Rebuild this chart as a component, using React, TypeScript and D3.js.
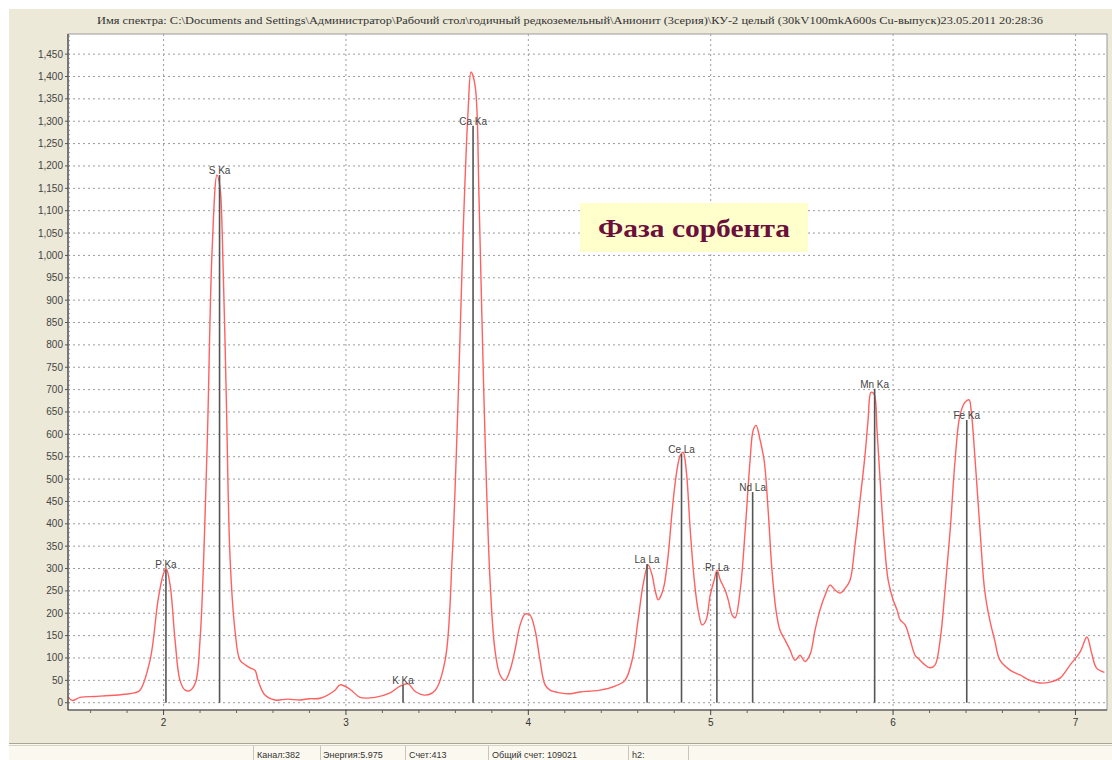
import React from "react";
import * as d3 from "d3";

const titleText =
  "Имя спектра: C:\\Documents and Settings\\Администратор\\Рабочий стол\\годичный редкоземельный\\Анионит (3серия)\\КУ-2 целый (30kV100mkA600s Cu-выпуск)23.05.2011 20:28:36";

const energies = [
  1.476, 1.5, 1.542, 1.624, 1.707, 1.789, 1.84, 1.871, 1.926, 1.97, 1.997, 2.014, 2.036, 2.063, 2.09, 2.118,
  2.145, 2.175, 2.2, 2.238, 2.266, 2.293, 2.31, 2.321, 2.343, 2.365, 2.392, 2.419, 2.447, 2.474, 2.502, 2.518,
  2.556, 2.611, 2.68, 2.748, 2.8, 2.858, 2.94, 2.968, 3.023, 3.077, 3.16, 3.242, 3.297, 3.341, 3.38, 3.435,
  3.49, 3.544, 3.582, 3.615, 3.643, 3.67, 3.686, 3.708, 3.73, 3.757, 3.79, 3.817, 3.845, 3.872, 3.9, 3.927,
  3.955, 3.982, 4.009, 4.037, 4.064, 4.092, 4.119, 4.174, 4.23, 4.283, 4.34, 4.393, 4.475, 4.53, 4.569,
  4.602, 4.629, 4.657, 4.679, 4.695, 4.712, 4.728, 4.745, 4.767, 4.789, 4.811, 4.833, 4.849, 4.866, 4.888,
  4.91, 4.931, 4.953, 4.975, 4.997, 5.019, 5.035, 5.052, 5.079, 5.096, 5.118, 5.134, 5.162, 5.189, 5.216,
  5.233, 5.249, 5.271, 5.293, 5.315, 5.336, 5.358, 5.38, 5.408, 5.435, 5.462, 5.49, 5.517, 5.545, 5.572,
  5.599, 5.627, 5.654, 5.682, 5.709, 5.736, 5.764, 5.791, 5.819, 5.846, 5.863, 5.879, 5.896, 5.912, 5.929,
  5.951, 5.973, 6.0, 6.022, 6.039, 6.066, 6.094, 6.121, 6.148, 6.176, 6.203, 6.23, 6.258, 6.285, 6.313,
  6.34, 6.367, 6.395, 6.417, 6.428, 6.45, 6.477, 6.502, 6.53, 6.557, 6.586, 6.641, 6.696, 6.75, 6.805,
  6.86, 6.915, 6.97, 7.025, 7.063, 7.088, 7.115, 7.159,
];

const counts = [
  13, 5, 12, 14, 16, 19, 22, 28, 95, 230, 285, 300, 263, 140, 50, 28,
  27, 45, 140, 560, 1010, 1180, 1150, 1060, 700, 320, 160, 95, 85, 78, 72, 50,
  17, 6, 8, 6, 9, 10, 28, 40, 30, 12, 12, 22, 37, 42, 25, 17,
  28, 95, 320, 676, 1056, 1325, 1410, 1380, 1123, 676, 274, 118, 62, 50, 73, 118,
  174, 198, 196, 162, 95, 40, 28, 22, 20, 24, 26, 28, 37, 50, 95,
  185, 263, 308, 285, 252, 230, 240, 263, 330, 430, 509, 553, 560, 519, 385,
  274, 207, 174, 185, 240, 274, 296, 275, 252, 230, 196, 190, 252, 385, 542,
  609, 620, 587, 542, 430, 296, 207, 162, 140, 118, 95, 106, 92, 108, 162,
  207, 240, 263, 252, 245, 255, 274, 352, 453, 553, 632, 694, 690, 609, 498,
  364, 274, 230, 207, 185, 174, 140, 106, 95, 84, 78, 84, 140, 252, 385,
  542, 643, 672, 677, 654, 542, 385, 252, 185, 140, 95, 73, 62, 50, 44,
  46, 55, 84, 113, 147, 112, 78, 68,
];

const peakNames = ["P Ka", "S Ka", "K Ka", "Ca Ka", "La La", "Ce La", "Pr La", "Nd La", "Mn Ka", "Fe Ka"];
const peakEnergies = [2.013, 2.307, 3.313, 3.697, 4.651, 4.84, 5.034, 5.23, 5.899, 6.404];
const peakHeights = [298, 1180, 40, 1290, 310, 556, 292, 471, 702, 632];

const xTicks = [2, 3, 4, 5, 6, 7];
const yTicks = d3.range(0, 1451, 50);

const statusCells = ["Канал:382", "Энергия:5.975", "Счет:413", "Общий счет: 109021", "h2:"];
const phaseLabel = "Фаза сорбента";

const W = 1112;
const H = 760;
const plot = { left: 68, right: 1107, top: 34, bottom: 710 };

export default function App() {
  const x = d3.scaleLinear().domain([1.476, 7.173]).range([plot.left, plot.right]);
  const y = d3.scaleLinear().domain([-16.3, 1495]).range([plot.bottom, plot.top]);

  const pts: [number, number][] = energies.map((e, i) => [e, counts[i]]);
  const line = d3
    .line<[number, number]>()
    .x((d) => x(d[0]))
    .y((d) => y(d[1]))
    .curve(d3.curveCatmullRom.alpha(0.5));

  const xMinor = d3.range(1.6, 7.17, 0.2).filter((v) => Math.abs(v - Math.round(v)) > 0.01);
  const yMinor = d3.range(0, 1491, 10);
  const fmt = d3.format(",");

  const statusSep = [253, 320, 405, 488, 628, 688];
  const statusTextX = [257, 323, 409, 492, 632];

  return (
    <svg
      width={W}
      height={H}
      style={{ position: "absolute", left: 0, top: 0, display: "block" }}
      fontFamily="'Liberation Sans', Arial, sans-serif"
    >
      <rect x={0} y={0} width={W} height={H} fill="#ffffff" />
      <rect x={9} y={9} width={W - 9} height={734} fill="#ECE9D8" />
      <text
        x={(97 + 1043) / 2}
        y={24}
        textAnchor="middle"
        fontFamily="'Liberation Serif', 'Times New Roman', serif"
        fontSize={10}
        fill="#333"
        textLength={946}
        lengthAdjust="spacingAndGlyphs"
      >
        {titleText}
      </text>

      {/* plot area */}
      <rect
        x={plot.left}
        y={plot.top}
        width={plot.right - plot.left}
        height={plot.bottom - plot.top}
        fill="#ffffff"
        stroke="#9a9a9a"
        strokeWidth={1}
      />

      {/* grid */}
      {yTicks.map((t) => (
        <line
          key={"gy" + t}
          x1={plot.left}
          x2={plot.right}
          y1={y(t)}
          y2={y(t)}
          stroke="#9c9c9c"
          strokeWidth={1}
          strokeDasharray="2,3"
        />
      ))}
      {xTicks.map((t) => (
        <line
          key={"gx" + t}
          x1={x(t)}
          x2={x(t)}
          y1={plot.top}
          y2={plot.bottom}
          stroke="#9c9c9c"
          strokeWidth={1}
          strokeDasharray="2,3"
        />
      ))}

      {/* spectrum */}
      <path d={line(pts) || ""} fill="none" stroke="#FF6060" strokeWidth={1.4} />

      {/* peak markers */}
      {peakNames.map((n, i) => (
        <g key={n}>
          <line
            x1={x(peakEnergies[i])}
            x2={x(peakEnergies[i])}
            y1={y(0)}
            y2={y(peakHeights[i])}
            stroke="#555"
            strokeWidth={1.6}
          />
          <text
            x={x(peakEnergies[i])}
            y={y(peakHeights[i]) - 1}
            textAnchor="middle"
            fontSize={10}
            fill="#444"
          >
            {n}
          </text>
        </g>
      ))}

      {/* axes */}
      <line x1={plot.left} x2={plot.left} y1={plot.top} y2={plot.bottom} stroke="#444" strokeWidth={1.2} />
      <line x1={plot.left} x2={plot.right} y1={plot.bottom} y2={plot.bottom} stroke="#444" strokeWidth={1.2} />
      {yMinor.map((t) => (
        <line key={"ym" + t} x1={plot.left} x2={plot.left + 2} y1={y(t)} y2={y(t)} stroke="#777" strokeWidth={0.8} />
      ))}
      {yTicks.map((t) => (
        <g key={"yt" + t}>
          <line x1={plot.left - 3} x2={plot.left} y1={y(t)} y2={y(t)} stroke="#555" />
          <text x={plot.left - 5} y={y(t)} dy="0.35em" textAnchor="end" fontSize={10} fill="#444">
            {fmt(t)}
          </text>
        </g>
      ))}
      {xMinor.map((t) => (
        <line key={"xm" + t} x1={x(t)} x2={x(t)} y1={plot.bottom} y2={plot.bottom + 3} stroke="#666" />
      ))}
      {xTicks.map((t) => (
        <g key={"xt" + t}>
          <line x1={x(t)} x2={x(t)} y1={plot.bottom} y2={plot.bottom + 5} stroke="#444" />
          <text x={x(t)} y={726} textAnchor="middle" fontSize={10} fill="#333">
            {t}
          </text>
        </g>
      ))}

      {/* phase label */}
      <rect x={580} y={203} width={228} height={49} fill="#FFFFCC" />
      <text
        x={694}
        y={237}
        textAnchor="middle"
        fontFamily="'Liberation Serif', 'Times New Roman', serif"
        fontWeight="bold"
        fontSize={26}
        fill="#6B0F3B"
        textLength={192}
        lengthAdjust="spacingAndGlyphs"
      >
        {phaseLabel}
      </text>

      {/* status bar */}
      <rect x={9} y={743} width={W - 9} height={17} fill="#FBF9EF" />
      <line x1={9} x2={W} y1={743.5} y2={743.5} stroke="#A8A698" />
      <line x1={9} x2={W} y1={745.5} y2={745.5} stroke="#D6D3C4" />
      {statusSep.map((s, i) => (
        <line key={"ss" + i} x1={s + 0.5} x2={s + 0.5} y1={746} y2={760} stroke="#C9C6B6" />
      ))}
      {statusCells.map((c, i) => (
        <text key={"st" + i} x={statusTextX[i]} y={758} fontSize={9} fill="#333">
          {c}
        </text>
      ))}
    </svg>
  );
}
